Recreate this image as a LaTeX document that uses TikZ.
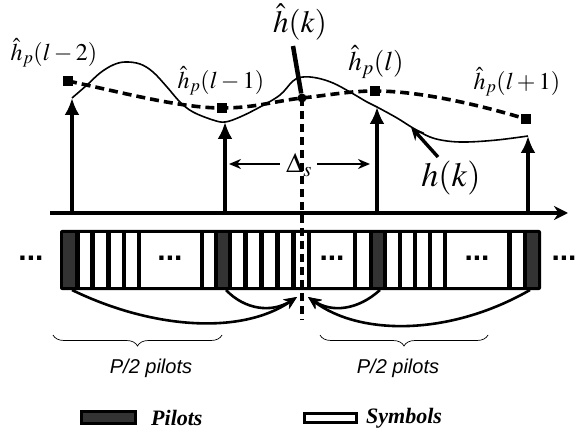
\documentclass[tikz,border=0pt]{standalone}
\usepackage{mathptmx}
\usepackage[no-math]{fontspec}
\setmainfont{Liberation Serif}
\setsansfont{Liberation Sans}
\usetikzlibrary{arrows.meta}
\usetikzlibrary{decorations.pathreplacing}
\usetikzlibrary{positioning}

\definecolor{pilotgray}{HTML}{333333}

\tikzset{
  lbl/.style={inner sep=0pt, font=\fontsize{24}{28}\selectfont},
  dots/.style={inner sep=0pt, font=\sffamily\bfseries\fontsize{30}{30}\selectfont},
  pilotarrow/.style={line width=3.6pt, -{Latex[length=17pt,width=15pt]}},
  linkarrow/.style={line width=2.6pt, -{Stealth[length=13pt,width=11pt]}},
  estline/.style={line width=3.6pt, dash pattern=on 9pt off 5pt},
}

\begin{document}
\begin{tikzpicture}[x=1pt,y=-1pt]
	\useasboundingbox (0,0) rectangle (586,430);

	% axis and pilot positions
	\coordinate (ax0) at (50,213);
	\coordinate (ax1) at (568,213);
	\foreach \i/\x/\y in {1/72/98, 2/225/122, 3/377/107, 4/528/136}{
		\coordinate (b\i) at (\x,213);
		\coordinate (t\i) at (\x,\y);
	}
	\draw[line width=3.4pt, -{Stealth[length=14pt,width=14pt]}] (ax0) -- (ax1);
	\foreach \i in {1,2,3,4}{\draw[pilotarrow] (b\i) -- (t\i);}

	% true channel
	\draw[line width=1.6pt] plot[smooth, tension=0.6] coordinates {(t1) (87,85) (100,73) (113,65) (125,62) (140,64) (153,72) (167,87) (180,102) (193,112) (213,120) (t2) (240,117) (260,107) (280,95) (293,81) (303,77) (317,78) (333,83) (350,92) (367,102) (t3) (397,118) (413,128) (430,137) (447,141) (467,142) (497,140) (t4)};

	% estimates
	\begin{scope}[every node/.style={fill=black, inner sep=0pt, minimum size=10pt}]
		\node (s1) at (68,81) {};
		\node (s2) at (222,108) {};
		\node (s3) at (375,91) {};
		\node (s4) at (526,119) {};
	\end{scope}
	\node[circle, fill=black, inner sep=0pt, minimum size=9pt] (c) at (302,98) {};
	\draw[estline] (s1.center) .. controls (120,92) and (180,108) .. (s2.center) .. controls (255,108) and (275,101) .. (c.center) .. controls (330,95) and (350,91) .. (s3.center) .. controls (420,91) and (480,105) .. (s4.center);

	% labels
	\node[lbl] (hp1) at (54,53) {$\hat{h}_p(l-2)$};
	\node[lbl] (hp2) at (221,81) {$\hat{h}_p(l-1)$};
	\node[lbl, font=\fontsize{27}{30}\selectfont] (hp3) at (376,62) {$\hat{h}_p(l)$};
	\node[lbl] (hp4) at (517,82) {$\hat{h}_p(l+1)$};
	\node[lbl, font=\fontsize{31}{34}\selectfont] (hh) at (300,22) {$\hat{h}(k)$};
	\node[lbl, font=\fontsize{34}{38}\selectfont] (hk) at (451,178) {$h(k)$};
	\node[lbl, font=\fontsize{28}{32}\selectfont] (ds) at (299,165) {$\Delta_s$};

	\coordinate (hl) at (293,46);
	\draw[line width=4.5pt] (hl) -- (c);
	\coordinate (hka) at (438,157);
	\coordinate (hkb) at (411,127);
	\draw[line width=3.4pt, -{Stealth[length=13pt,width=12pt]}] (hka) -- (hkb);
	\coordinate (dl) at (229,164);
	\coordinate (dr) at (370,164);
	\draw[line width=2.6pt, -{Stealth[length=12pt,width=10pt]}] (ds.west) ++(-6,-1) -- (dl);
	\draw[line width=2.6pt, -{Stealth[length=12pt,width=10pt]}] (ds.east) ++(5,-1) -- (dr);

	% frame of pilots and symbols
	\fill[black, rounded corners=2pt] (60,230) rectangle (541,290);
	\foreach \a/\b in {80/90, 95/106, 111/122, 126/137, 141/200, 204/214,
	                   232/243, 248/259, 264/275, 280/291, 296/307, 311/353, 357/369,
	                   387/398, 402/413, 417/428, 432/443, 447/507, 512/523}
		{\fill[white] (\a,233.5) rectangle (\b,286.5);}
	\foreach \a/\b in {63/75, 218/228, 373/383, 527/538}
		{\fill[pilotgray] (\a,233.5) rectangle (\b,286.5);}
	\node[dots] (d0) at (31,258) {...};
	\node[dots] (d1) at (170,258) {...};
	\node[dots] (d2) at (332,258) {...};
	\node[dots] (d3) at (477,258) {...};
	\node[dots] (d4) at (564,258) {...};

	\coordinate (cb) at (302,320);
	\draw[line width=4pt, dash pattern=on 8pt off 5pt] (c.center) -- (cb);

	% interpolation links
	\foreach \i/\x in {1/72, 2/226, 3/380, 4/530}{\coordinate (f\i) at (\x,290);}
	\coordinate (m1) at (297,297);
	\coordinate (m2) at (308,297);
	\draw[linkarrow] (f1) .. controls (150,328) and (240,336) .. (m1);
	\draw[linkarrow] (f2) .. controls (245,310) and (272,313) .. (m1);
	\draw[linkarrow] (f3) .. controls (358,310) and (332,313) .. (m2);
	\draw[linkarrow] (f4) .. controls (450,336) and (360,336) .. (m2);

	% braces
	\coordinate (bl0) at (53,335);
	\coordinate (bl1) at (222,335);
	\coordinate (br0) at (320,335);
	\coordinate (br1) at (488,335);
	\draw[line width=0.7pt, decorate, decoration={brace, amplitude=11pt}] (bl1) -- (bl0);
	\draw[line width=0.7pt, decorate, decoration={brace, amplitude=11pt}] (br1) -- (br0);
	\node[font=\sffamily\itshape\fontsize{20}{24}\selectfont] (pl) at (151,368) {P/2 pilots};
	\node[font=\sffamily\itshape\fontsize{20}{24}\selectfont] (pr) at (398,368) {P/2 pilots};

	% legend
	\node[draw, line width=3pt, fill=pilotgray, minimum width=54pt, minimum height=12pt, inner sep=0pt] (lp) at (108.5,417.5) {};
	\node[right=14pt of lp, inner sep=0pt, font=\bfseries\itshape\fontsize{22}{26}\selectfont] (lpt) {Pilots};
	\node[draw, line width=3pt, fill=white, minimum width=52pt, minimum height=9pt, inner sep=0pt] (ls) at (330.5,418) {};
	\node[right=8pt of ls, inner sep=0pt, font=\bfseries\itshape\fontsize{22}{26}\selectfont] (lst) {Symbols};
\end{tikzpicture}
\end{document}
